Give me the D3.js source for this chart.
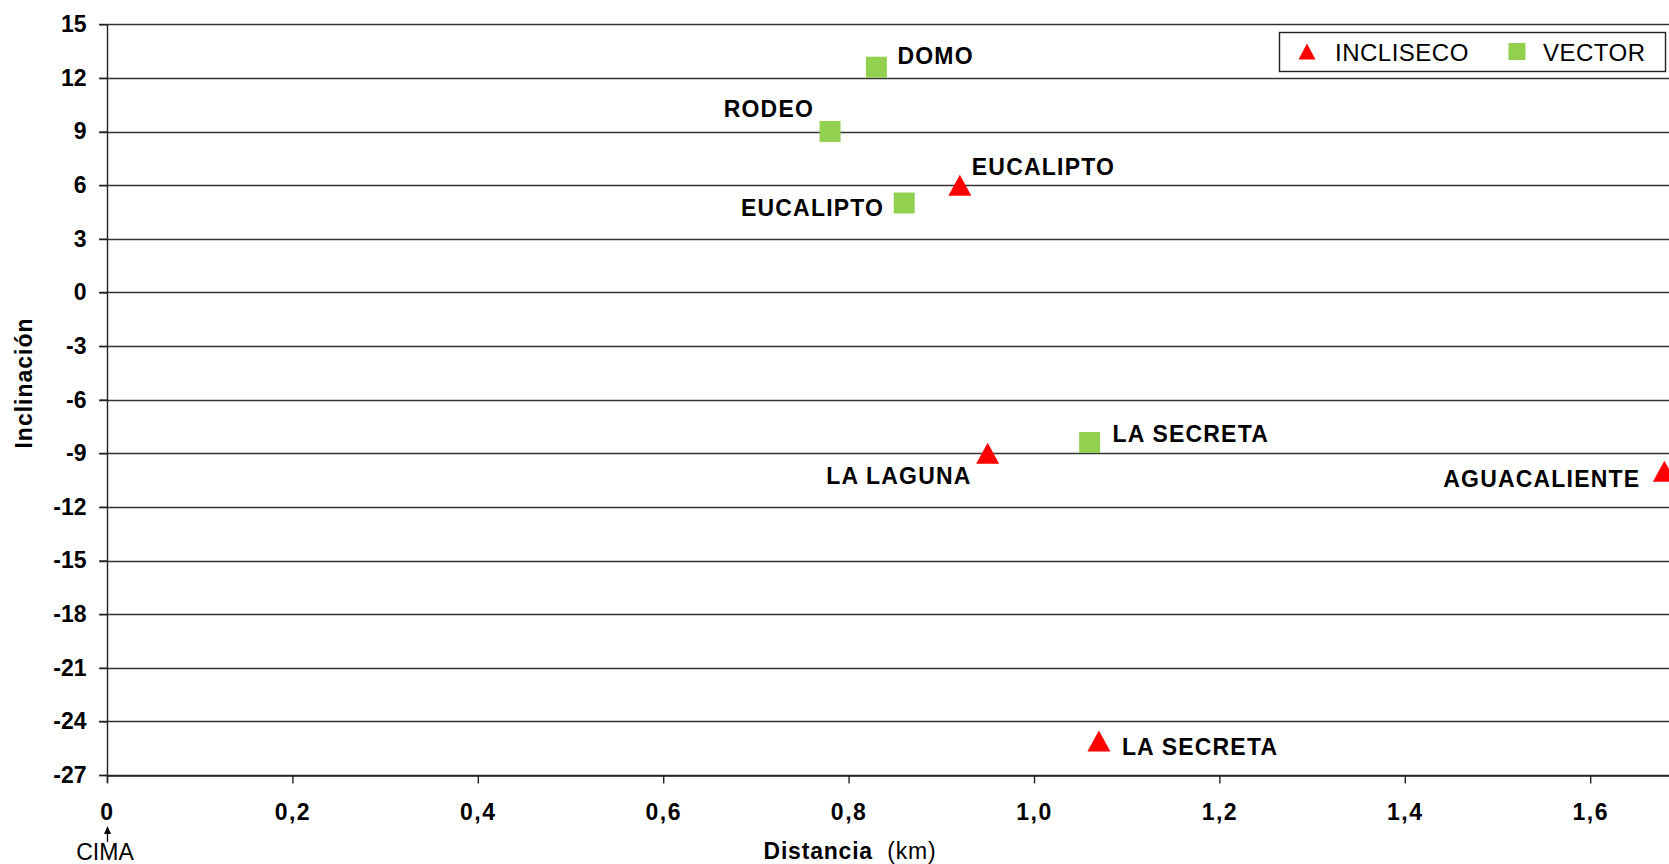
<!DOCTYPE html>
<html>
<head>
<meta charset="utf-8">
<script src="https://cdn.jsdelivr.net/npm/d3@7"></script>
<style>
  html, body { margin: 0; padding: 0; background: #fff; overflow: hidden; }
  svg { display: block; font-family: "Liberation Sans", Arial, sans-serif; }
</style>
</head>
<body>
<div id="container"></div>
<script>
// data
const seriesNames = ['INCLISECO', 'VECTOR'];

const inclisecoNames = ['EUCALIPTO', 'LA LAGUNA', 'AGUACALIENTE', 'LA SECRETA'];
const inclisecoDist = [0.92, 0.95, 1.68, 1.07];
const inclisecoIncl = [6.0, -9.0, -10.0, -25.1];

const vectorNames = ['DOMO', 'RODEO', 'EUCALIPTO', 'LA SECRETA'];
const vectorDist = [0.83, 0.78, 0.86, 1.06];
const vectorIncl = [12.6, 9.0, 5.0, -8.4];

const yTicks = [-27, -24, -21, -18, -15, -12, -9, -6, -3, 0, 3, 6, 9, 12, 15];
const xTicks = [0, 0.2, 0.4, 0.6, 0.8, 1.0, 1.2, 1.4, 1.6];

// label placement (layout only)
const inclisecoLabelPos = [[12, -10, 'start'], [-16, 31, 'end'], [-24, 16, 'end'], [23, 14, 'start']];
const vectorLabelPos = [[21, -3, 'start'], [-16, -15, 'end'], [-20, 13, 'end'], [23, -1, 'start']];

const width = 1669;
const height = 864;
const FONT = 23;
const SPACING = 1.2;
const RED = '#ff0000';
const GREEN = '#92d050';

const svg = d3.select('#container').append('svg')
  .attr('width', width)
  .attr('height', height);

const x = d3.scaleLinear()
  .domain([0, 1.8])
  .range([107, 107 + 1.8 * 927]);

const y = d3.scaleLinear()
  .domain([-27, 15])
  .range([775, 24.3]);

// horizontal gridlines
svg.append('g').selectAll('line')
  .data(yTicks)
  .join('line')
  .attr('x1', 99)
  .attr('x2', width)
  .attr('y1', d => Math.round(y(d)) + 0.5)
  .attr('y2', d => Math.round(y(d)) + 0.5)
  .attr('stroke', '#333')
  .attr('stroke-width', 1.4);

const comma = d3.formatLocale({decimal: ',', thousands: '.', grouping: [3], currency: ['', ''], minus: '-'});
const fmtX = d => d === 0 ? '0' : comma.format('.1f')(d);
const fmtY = d => String(d);

const yAxis = svg.append('g')
  .attr('transform', `translate(${Math.round(x(0)) + 0.5},0)`)
  .call(d3.axisLeft(y).tickValues(yTicks).tickSize(8).tickPadding(13).tickFormat(fmtY));

const xAxis = svg.append('g')
  .attr('transform', `translate(0,${Math.round(y(-27)) + 0.5})`)
  .call(d3.axisBottom(x).tickValues(xTicks).tickSizeInner(8).tickSizeOuter(0).tickPadding(20).tickFormat(fmtX));

[yAxis, xAxis].forEach(ax => {
  ax.select('.domain').attr('stroke', '#222').attr('stroke-width', 1.4);
  ax.selectAll('.tick line').attr('stroke', '#222').attr('stroke-width', 1.4);
  ax.selectAll('.tick text')
    .attr('fill', '#000')
    .attr('font-size', FONT)
    .attr('font-weight', 'bold')
    .attr('font-family', '"Liberation Sans", Arial, sans-serif');
});
xAxis.selectAll('.tick text').attr('letter-spacing', 1.5);
yAxis.select('.domain').attr('d', `M0,${y(15)}V${y(-27) + 8}`);

// axis titles
svg.append('text')
  .attr('x', 850)
  .attr('y', 859)
  .attr('text-anchor', 'middle')
  .attr('font-size', FONT)
  .attr('letter-spacing', 0.8)
  .call(t => {
    t.append('tspan').attr('font-weight', 'bold').text('Distancia');
    t.append('tspan').attr('xml:space', 'preserve').text('  (km)');
  });

svg.append('text')
  .attr('transform', 'translate(32,383) rotate(-90)')
  .attr('text-anchor', 'middle')
  .attr('font-size', FONT)
  .attr('font-weight', 'bold')
  .attr('letter-spacing', 1)
  .text('Inclinación');

// CIMA marker under x = 0
const cx = Math.round(x(0)) + 0.5;
svg.append('line')
  .attr('x1', cx).attr('x2', cx)
  .attr('y1', 829).attr('y2', 842)
  .attr('stroke', '#000').attr('stroke-width', 1.3);
svg.append('path')
  .attr('d', `M${cx},826 L${cx + 3.5},834 L${cx - 3.5},834 Z`)
  .attr('fill', '#000');
svg.append('text')
  .attr('x', 105)
  .attr('y', 860)
  .attr('text-anchor', 'middle')
  .attr('font-size', FONT)
  .text('CIMA');

function triangle(w, h) {
  return `M0,${-h / 2}L${w / 2},${h / 2}L${-w / 2},${h / 2}Z`;
}

function drawSeries(names, dist, incl, pos, kind) {
  const g = svg.append('g');
  names.forEach((name, i) => {
    const px = x(dist[i]);
    const py = y(incl[i]);
    if (kind === 'tri') {
      g.append('path')
        .attr('transform', `translate(${px},${py})`)
        .attr('d', triangle(23, 21))
        .attr('fill', RED);
    } else {
      g.append('rect')
        .attr('x', px - 10.5)
        .attr('y', py - 10.5)
        .attr('width', 21)
        .attr('height', 21)
        .attr('fill', GREEN);
    }
    g.append('text')
      .attr('x', px + pos[i][0])
      .attr('y', py + pos[i][1])
      .attr('text-anchor', pos[i][2])
      .attr('font-size', FONT)
      .attr('font-weight', 'bold')
      .attr('letter-spacing', SPACING)
      .text(name);
  });
}

drawSeries(vectorNames, vectorDist, vectorIncl, vectorLabelPos, 'sq');
drawSeries(inclisecoNames, inclisecoDist, inclisecoIncl, inclisecoLabelPos, 'tri');

// legend
const legend = svg.append('g');
legend.append('rect')
  .attr('x', 1279.5).attr('y', 32.5)
  .attr('width', 386).attr('height', 39)
  .attr('fill', '#fff')
  .attr('stroke', '#222')
  .attr('stroke-width', 1.4);
legend.append('path')
  .attr('transform', 'translate(1307,51.5)')
  .attr('d', triangle(17, 16))
  .attr('fill', RED);
legend.append('rect')
  .attr('x', 1508.5).attr('y', 43)
  .attr('width', 17).attr('height', 17)
  .attr('fill', GREEN);
legend.selectAll('text.lg')
  .data(seriesNames)
  .join('text')
  .attr('class', 'lg')
  .attr('x', (d, i) => i === 0 ? 1335 : 1543)
  .attr('y', 61)
  .attr('font-size', 24)
  .attr('letter-spacing', 0.5)
  .text(d => d);
</script>
</body>
</html>
